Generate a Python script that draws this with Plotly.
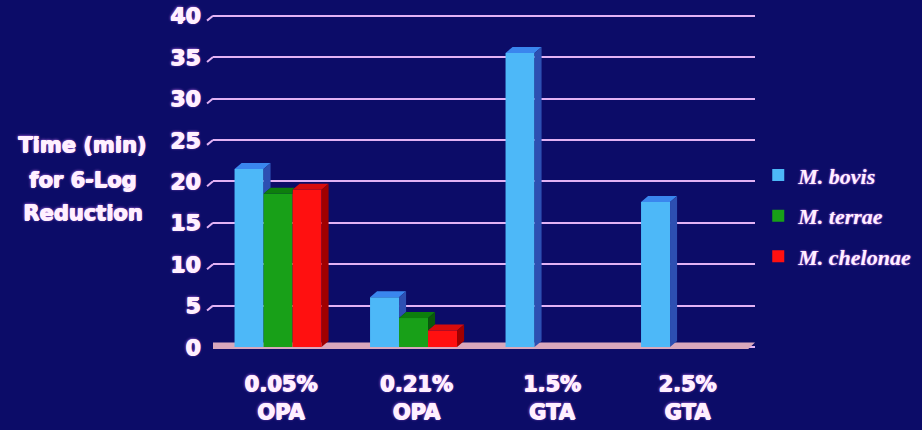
import plotly.graph_objects as go

# ---- data ----
categories = ["0.05%<br>OPA", "0.21%<br>OPA", "1.5%<br>GTA", "2.5%<br>GTA"]
series_names = ["M. bovis", "M. terrae", "M. chelonae"]
m_bovis = [21.5, 6.0, 35.5, 17.5]
m_terrae = [18.5, 3.5, None, None]
m_chelonae = [19.0, 2.0, None, None]
y_ticks = [0, 5, 10, 15, 20, 25, 30, 35, 40]

series_values = [m_bovis, m_terrae, m_chelonae]
front_colors = ["#4db8f8", "#18a018", "#ff1010"]
top_colors = ["#3a86ee", "#0d7e0d", "#d80c0c"]
side_colors = ["#2d4fb2", "#0a5a0a", "#a00000"]

BG = "#0c0c68"
TXT = "#fff0ff"
GRID = "#e2b2f4"
GLOW = "1px 0 0 #fff0ff, 0 1px 0 #fff0ff, 0 0 3px #e080ff"

W = 0.214        # bar width (x units)
SHIFT = 0.02
DX = 0.052       # depth offset in x units
DY = 0.72        # depth offset in y units

idx = list(range(len(categories)))
fig = go.Figure()

# front faces as bars
for j, (name, vals) in enumerate(zip(series_names, series_values)):
    fig.add_trace(go.Bar(
        x=idx, y=vals, name=name, width=W, offset=-1.5 * W + j * W - SHIFT,
        marker=dict(color=front_colors[j], line=dict(width=0)),
        legendgroup=name, hoverinfo="skip",
    ))

# 3D top and side faces derived from the same values
for j, (name, vals) in enumerate(zip(series_names, series_values)):
    tx, ty, sx, sy = [], [], [], []
    for i in idx:
        v = vals[i]
        if not v:
            continue
        xl = i - 1.5 * W + j * W - SHIFT
        xr = xl + W
        vn = 0
        if j + 1 < len(series_values):
            vn = series_values[j + 1][i] or 0
        if vn > v:
            c = min(vn, v + DY)
            s = DX * (v + DY - c) / DY
            tx += [xl, xr, xr, xr + s, xl + DX, xl, None]
            ty += [v, v, c, v + DY, v + DY, v, None]
        else:
            tx += [xl, xr, xr + DX, xl + DX, xl, None]
            ty += [v, v, v + DY, v + DY, v, None]
            sx += [xr, xr + DX, xr + DX, xr, xr, None]
            sy += [vn, vn + DY, v + DY, v, vn, None]
    fig.add_trace(go.Scatter(x=tx, y=ty, fill="toself", fillcolor=top_colors[j],
                             mode="none", showlegend=False, legendgroup=name,
                             hoverinfo="skip"))
    if sx:
        fig.add_trace(go.Scatter(x=sx, y=sy, fill="toself", fillcolor=side_colors[j],
                                 mode="none", showlegend=False, legendgroup=name,
                                 hoverinfo="skip"))

# floor
fig.add_shape(type="path", xref="x", yref="y", layer="between",
              path="M -0.545 -0.25 L 3.45 -0.25 L 3.5 0.55 L -0.5 0.55 Z",
              fillcolor="#d9a8bc", line=dict(width=0))

# slanted left-wall ends of the gridlines
for t in y_ticks[1:]:
    fig.add_shape(type="line", xref="paper", yref="y", layer="below",
                  x0=-0.011, y0=t - 0.6, x1=0, y1=t,
                  line=dict(color=GRID, width=2))

fig.update_layout(
    width=922, height=430,
    margin=dict(l=213, r=167, t=14, b=78, autoexpand=False),
    paper_bgcolor=BG, plot_bgcolor=BG,
    barmode="overlay",
    showlegend=True,
    legend=dict(x=1.006, y=0.585, xanchor="left", yanchor="top",
                traceorder="grouped", tracegroupgap=9,
                font=dict(family="Liberation Serif", size=22, color=TXT,
                          weight="bold", style="italic", shadow="0 0 2px #e080ff"),
                bgcolor="rgba(0,0,0,0)"),
    xaxis=dict(range=[-0.5, 3.5], tickvals=idx, ticktext=categories,
               showgrid=False, zeroline=False, showline=False, automargin=False,
               ticks="outside", ticklen=13, tickcolor="rgba(0,0,0,0)",
               tickfont=dict(family="DejaVu Sans", size=21, color=TXT,
                             weight="bold", shadow=GLOW)),
    yaxis=dict(range=[-0.6, 40.2], tickvals=y_ticks, automargin=False,
               showgrid=True, gridcolor=GRID, gridwidth=2,
               zeroline=False, showline=False,
               ticks="outside", ticklen=7, tickcolor="rgba(0,0,0,0)",
               tickfont=dict(family="DejaVu Sans", size=22, color=TXT,
                             weight="bold", shadow=GLOW)),
)

title_lines = ["Time (min)", "for 6-Log", "Reduction"]
title_px = [145, 180, 213]
for line, py in zip(title_lines, title_px):
    fig.add_annotation(text=line, xref="paper", yref="paper",
                       x=(82 - 213) / 542, y=(352 - py) / 338,
                       xanchor="center", yanchor="middle", showarrow=False,
                       font=dict(family="DejaVu Sans", size=21, color=TXT,
                                 weight="bold", shadow=GLOW))

fig.write_html("out.html", config={"displayModeBar": False},
               post_script="document.body.style.margin='0';")
